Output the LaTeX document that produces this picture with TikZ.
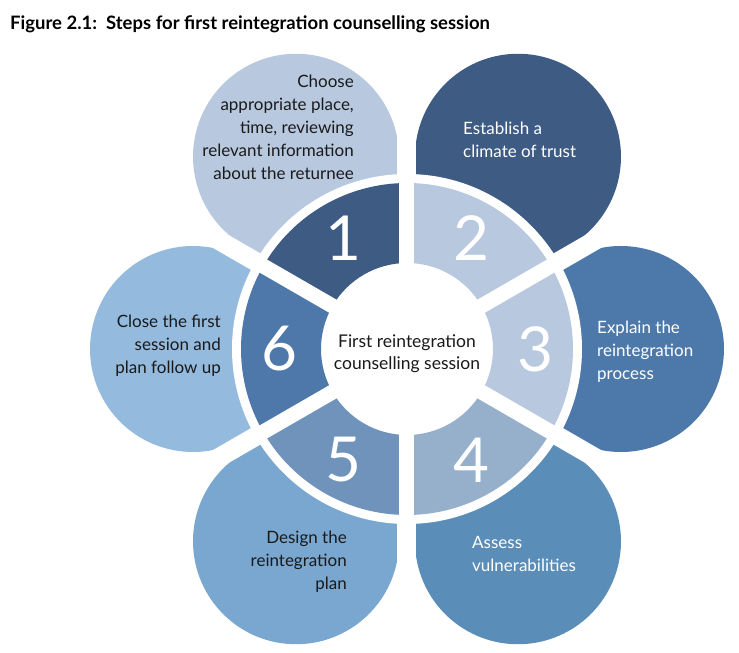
\documentclass[tikz,border=0pt]{standalone}
\usepackage{fontspec}
\setmainfont{Lato}
\usetikzlibrary{positioning}

\definecolor{petalA}{HTML}{B8C9DF}
\definecolor{petalB}{HTML}{3D5B83}
\definecolor{petalC}{HTML}{4D79AA}
\definecolor{petalD}{HTML}{5A8DB8}
\definecolor{petalE}{HTML}{7AA7CF}
\definecolor{petalF}{HTML}{94BADE}
\definecolor{segA}{HTML}{3D5B83}
\definecolor{segB}{HTML}{B8C9DF}
\definecolor{segC}{HTML}{B8C9DF}
\definecolor{segD}{HTML}{96AFCB}
\definecolor{segE}{HTML}{7093BC}
\definecolor{segF}{HTML}{4E78A9}
\definecolor{inkdark}{HTML}{1A1A1A}

\begin{document}
\begin{tikzpicture}[
    x=1pt, y=1pt,
    % --- text styles -------------------------------------------------
    steptext/.style={inner sep=0pt, font=\fontsize{17}{23}\selectfont},
    darktext/.style={steptext, text=inkdark},
    lighttext/.style={steptext, text=white},
    stepnum/.style={inner sep=0pt, text=white, font=\fontsize{62}{62}\selectfont},
    hubtext/.style={inner sep=0pt, align=center, text=inkdark,
        font=\fontsize{17.5}{22}\selectfont},
    gap/.style={white, line width=#1}
]
\useasboundingbox (-407,-304) rectangle (332,349);
\coordinate (hub) at (0,0);

% --- petals (circle plus its tangents to the hub) -----------------
\foreach \ang/\dist/\col in {120/222/petalA, 60/222/petalB, 0/214/petalC,
                             -60/222/petalD, -120/222/petalE, 180/214/petalF}{
    \pgfmathsetmacro\tilt{asin(103/\dist)}
    \pgfmathsetmacro\reach{\dist*cos(\tilt)}
    \fill[\col] (hub) -- (\ang+\tilt:\reach)
        arc[start angle=\ang+90+\tilt, end angle=\ang-90-\tilt, radius=103] -- cycle;
}

\foreach \g in {30,90,...,330}
    \draw[gap=19pt] (hub) -- (\g:326);

% --- ring of numbered segments ------------------------------------
\fill[white] (hub) circle (175);
\foreach \ang/\col in {120/segA, 60/segB, 0/segC, -60/segD, -120/segE, 180/segF}
    \fill[\col] (\ang-30:86) -- (\ang-30:166)
        arc[start angle=\ang-30, end angle=\ang+30, radius=166]
        -- (\ang+30:86)
        arc[start angle=\ang+30, end angle=\ang-30, radius=86] -- cycle;

\foreach \g in {30,90,...,330}
    \draw[gap=15pt] (hub) -- (\g:170);

\foreach \n/\ang in {1/120, 2/60, 3/0, 4/-60, 5/-120, 6/180}
    \node[stepnum] (num\n) at (\ang:128) {\n};

% --- labels -------------------------------------------------------
\node[hubtext] (hublabel) at (0,-5) {First reintegration\\counselling session};

\node[darktext, anchor=east, align=right] (step1) at (-53,222)
    {Choose\\appropriate place,\\time, reviewing\\relevant information\\about the returnee};
\node[lighttext, anchor=west, align=left] (step2) at (56,209)
    {Establish a\\climate of trust};
\node[lighttext, anchor=west, align=left] (step3) at (190,-3)
    {Explain the\\reintegration\\process};
\node[lighttext, anchor=west, align=left] (step4) at (65,-205)
    {Assess\\vulnerabilities};
\node[darktext, anchor=east, align=right] (step5) at (-60,-213)
    {Design the\\reintegration\\plan};
\node[darktext, anchor=east, align=right] (step6) at (-186,3)
    {Close the first\\session and\\plan follow up};

\node[inner sep=0pt, anchor=base west, font=\bfseries\fontsize{18.5}{22}\selectfont]
    (title) at (-397,319) {Figure 2.1:\ \ Steps for first reintegration counselling session};
\end{tikzpicture}
\end{document}
